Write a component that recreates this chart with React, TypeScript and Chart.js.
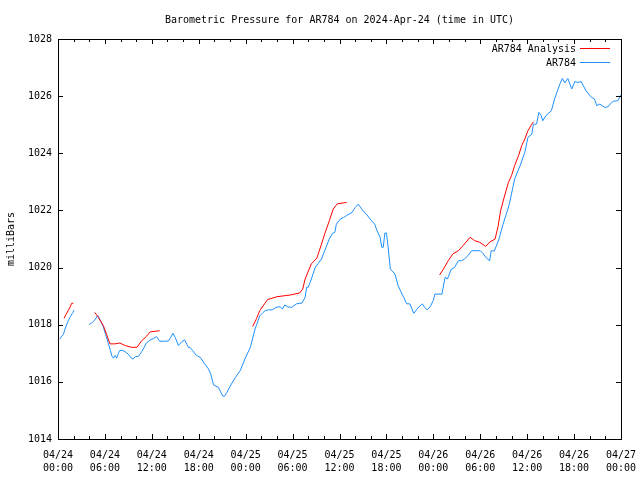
import React, { useEffect, useRef } from 'react';
import { Chart, registerables } from 'chart.js';

Chart.register(...registerables);

const TITLE = 'Barometric Pressure for AR784 on 2024-Apr-24 (time in UTC)';
const Y_LABEL = 'milliBars';
const SERIES_NAMES = ['AR784 Analysis', 'AR784'];
const SERIES_COLORS = ['#ff0000', '#1e90ff'];

const X_MIN = 0;
const X_MAX = 72;
const X_STEP = 2;
const X_LABEL_EVERY = 6;
const Y_MIN = 1014;
const Y_MAX = 1028;
const Y_STEP = 2;

const X_TICK_DATES = ['04/24', '04/24', '04/24', '04/24', '04/25', '04/25', '04/25', '04/25', '04/26', '04/26', '04/26', '04/26', '04/27'];
const X_TICK_TIMES = ['00:00', '06:00', '12:00', '18:00', '00:00', '06:00', '12:00', '18:00', '00:00', '06:00', '12:00', '18:00', '00:00'];

// Observed station pressure (hours since 04/24 00:00 UTC); null = gap
const obsHours = [
  0.2, 0.7, 0.9, 1.3, 1.6, 1.9, 2.05,
  3.0,
  4.0, 4.3, 4.55, 4.8, 5.0, 5.16, 5.4, 5.6, 5.8, 6.1, 6.4, 6.7, 6.9, 7.07, 7.3, 7.5, 7.7, 7.9,
  8.3, 8.6, 9.0, 9.3, 9.6, 9.9, 10.3, 10.7, 11.0, 11.3, 11.7, 12.2, 12.6, 13.0, 13.5, 14.1,
  14.4, 14.7, 15.0, 15.4, 15.8, 16.2, 16.5, 16.7, 16.9, 17.2, 17.7, 18.2, 18.7, 19.2, 19.5,
  19.9, 20.5, 20.8, 21.1, 21.3, 21.6, 22.0, 22.6, 23.3, 23.9, 24.6, 25.2, 25.8, 26.2, 26.5,
  26.9, 27.4, 27.9, 28.4, 28.7, 29.0, 29.4, 29.9, 30.5, 31.2, 31.6, 31.8, 32.0, 32.4, 32.9,
  33.3, 33.7, 34.1, 34.7, 35.1, 35.4, 35.6, 36.1, 36.5, 36.9, 37.6, 38.0, 38.4, 39.0, 39.5,
  39.9, 40.5, 40.8, 41.2, 41.4, 41.6, 41.8, 42.0, 42.2, 42.5, 43.1, 43.5, 44.2, 44.6, 45.0,
  45.5, 46.1, 46.6, 46.9, 47.2, 47.6, 48.0, 48.2, 49.1, 49.5, 49.8, 50.3, 50.7, 51.2, 51.6,
  52.0, 52.5, 52.9, 53.3, 54.0, 54.4, 54.8, 55.2, 55.4, 55.8, 56.4, 56.9, 57.3, 57.7, 58.4,
  59.1, 59.7, 60.1, 60.6, 60.8, 61.2, 61.5, 61.8, 62.0, 62.4, 63.1, 63.5, 63.8, 64.2, 64.5,
  64.8, 65.2, 65.7, 66.1, 66.5, 66.9, 67.5, 68.2, 68.6, 68.9, 69.3, 69.9, 70.3, 70.6, 71.0,
  71.6, 72.0,
];
const obsPressure = [
  1017.5, 1017.67, 1017.85, 1018.14, 1018.29, 1018.43, 1018.51,
  null,
  1018.02, 1018.05, 1018.12, 1018.2, 1018.3, 1018.3, 1018.15, 1018.05, 1017.92, 1017.65, 1017.38, 1017.1, 1016.9, 1016.83, 1016.92, 1016.83, 1016.98, 1017.1,
  1017.1, 1017.05, 1016.97, 1016.85, 1016.8, 1016.88, 1016.9, 1017.05, 1017.2, 1017.36, 1017.45, 1017.52, 1017.58, 1017.42, 1017.42, 1017.43,
  1017.55, 1017.7, 1017.55, 1017.27, 1017.4, 1017.47, 1017.3, 1017.2, 1017.2, 1017.1, 1016.92, 1016.86, 1016.65, 1016.47, 1016.3,
  1015.89, 1015.81, 1015.65, 1015.5, 1015.5, 1015.63, 1015.84, 1016.12, 1016.39, 1016.8, 1017.21, 1017.85, 1018.31, 1018.42, 1018.49,
  1018.52, 1018.52, 1018.61, 1018.63, 1018.55, 1018.69, 1018.62, 1018.61, 1018.73, 1018.76, 1018.96, 1019.31, 1019.31, 1019.6, 1020.01,
  1020.15, 1020.3, 1020.59, 1021.0, 1021.2, 1021.23, 1021.52, 1021.7, 1021.75, 1021.82, 1021.93, 1022.1, 1022.22, 1021.99, 1021.85,
  1021.7, 1021.52, 1021.29, 1021.06, 1020.71, 1020.71, 1021.21, 1021.21, 1020.77, 1019.95, 1019.77, 1019.36, 1018.96, 1018.73, 1018.73,
  1018.4, 1018.61, 1018.73, 1018.6, 1018.52, 1018.63, 1018.85, 1019.07, 1019.07, 1019.66, 1019.6, 1019.95, 1020.0, 1020.24, 1020.24,
  1020.3, 1020.44, 1020.59, 1020.59, 1020.59, 1020.48, 1020.33, 1020.24, 1020.59, 1020.58, 1021.0, 1021.5, 1021.85, 1022.2, 1023.1,
  1023.57, 1024.03, 1024.56, 1024.67, 1025.02, 1025.02, 1025.43, 1025.32, 1025.14, 1025.32, 1025.49, 1025.9, 1026.13, 1026.43, 1026.62,
  1026.46, 1026.62, 1026.25, 1026.51, 1026.48, 1026.51, 1026.2, 1025.96, 1025.9, 1025.67, 1025.72, 1025.61, 1025.62, 1025.72, 1025.82,
  1025.84, 1026.04,
];

// Model analysis pressure; null = gap between segments
const anaHours = [
  0.77, 1.0, 1.3, 1.55, 1.75, 1.96,
  3.3,
  4.7, 5.15, 5.8, 6.2, 6.65, 7.3, 7.9, 8.6, 9.4, 10.1, 10.7, 11.3, 11.8, 13.0,
  19.0,
  24.9, 25.4, 25.8, 26.8, 28.0, 29.7, 30.9, 31.3, 31.6, 32.4, 33.1, 33.7, 34.1, 34.7, 35.2, 35.7, 36.9,
  43.0,
  48.8, 49.3, 49.9, 50.5, 51.2, 51.8, 52.7, 53.3, 53.9, 54.7, 55.2, 55.9, 56.3, 56.6, 57.0, 57.6, 58.0,
  58.4, 58.9, 59.3, 59.7, 60.1, 60.6, 60.8,
];
const anaPressure = [
  1018.22, 1018.35, 1018.49, 1018.62, 1018.75, 1018.75,
  null,
  1018.43, 1018.26, 1017.97, 1017.67, 1017.33, 1017.33, 1017.36, 1017.27, 1017.21, 1017.21, 1017.44, 1017.59, 1017.75, 1017.79,
  null,
  1017.94, 1018.22, 1018.49, 1018.88, 1018.98, 1019.04, 1019.11, 1019.25, 1019.6, 1020.13, 1020.33, 1020.82, 1021.17, 1021.64, 1022.05, 1022.23, 1022.28,
  null,
  1019.74, 1019.95, 1020.24, 1020.48, 1020.59, 1020.77, 1021.06, 1020.94, 1020.89, 1020.74, 1020.89, 1021.0, 1021.47, 1021.99, 1022.4, 1022.98, 1023.22,
  1023.57, 1023.92, 1024.27, 1024.5, 1024.79, 1025.02, 1025.1,
];

const FONT_FAMILY = '"DejaVu Sans Mono", "Liberation Mono", monospace';
const FONT_SIZE = 10;

const toPoints = (xs: number[], ys: (number | null)[]) => xs.map((x, i) => ({ x, y: ys[i] }));

const framePlugin = {
  id: 'gnuFrame',
  afterDraw(chart: any) {
    const { ctx, chartArea } = chart;
    const { left, right, top, bottom } = chartArea;
    const xs = chart.scales.x;
    const ys = chart.scales.y;
    ctx.save();
    ctx.strokeStyle = '#000';
    ctx.lineWidth = 1;
    ctx.strokeRect(left + 0.5, top + 0.5, right - left, bottom - top);
    ctx.beginPath();
    xs.ticks.forEach((t: any) => {
      const px = Math.round(xs.getPixelForValue(t.value)) + 0.5;
      const len = t.value % X_LABEL_EVERY === 0 ? 5 : 3;
      ctx.moveTo(px, bottom);
      ctx.lineTo(px, bottom - len);
      ctx.moveTo(px, top);
      ctx.lineTo(px, top + len);
    });
    ys.ticks.forEach((t: any) => {
      const py = Math.round(ys.getPixelForValue(t.value)) + 0.5;
      ctx.moveTo(left, py);
      ctx.lineTo(left + 5, py);
      ctx.moveTo(right, py);
      ctx.lineTo(right - 5, py);
    });
    ctx.stroke();

    ctx.fillStyle = '#000';
    ctx.font = `${FONT_SIZE}px ${FONT_FAMILY}`;
    ctx.textAlign = 'center';
    ctx.textBaseline = 'middle';
    ctx.fillText(TITLE, (left + right) / 2, 20);

    ctx.textAlign = 'right';
    chart.data.datasets.forEach((ds: any, i: number) => {
      const y = 49 + i * 14;
      ctx.fillStyle = '#000';
      ctx.fillText(ds.label, right - 45, y);
      ctx.strokeStyle = SERIES_COLORS[i];
      ctx.lineWidth = 1;
      ctx.beginPath();
      ctx.moveTo(right - 41, y - 0.5);
      ctx.lineTo(right - 11, y - 0.5);
      ctx.stroke();
    });
    ctx.restore();
  },
};

export default function App() {
  const canvasRef = useRef<HTMLCanvasElement | null>(null);

  useEffect(() => {
    if (!canvasRef.current) return;
    const chart = new Chart(canvasRef.current, {
      type: 'line',
      data: {
        datasets: [
          {
            label: SERIES_NAMES[0],
            data: toPoints(anaHours, anaPressure),
            borderColor: SERIES_COLORS[0],
            backgroundColor: SERIES_COLORS[0],
            borderWidth: 1,
            pointRadius: 0,
            tension: 0,
            spanGaps: false,
          },
          {
            label: SERIES_NAMES[1],
            data: toPoints(obsHours, obsPressure),
            borderColor: SERIES_COLORS[1],
            backgroundColor: SERIES_COLORS[1],
            borderWidth: 1,
            pointRadius: 0,
            tension: 0,
            spanGaps: false,
          },
        ],
      },
      options: {
        responsive: false,
        animation: false,
        devicePixelRatio: 1,
        layout: { padding: { top: 39, right: 19, left: 0, bottom: 0 } },
        plugins: {
          legend: { display: false },
          title: { display: false },
          tooltip: { enabled: false },
        },
        scales: {
          x: {
            type: 'linear',
            min: X_MIN,
            max: X_MAX,
            grid: { display: false, drawTicks: false },
            border: { display: false },
            afterFit: (s: any) => { s.height = 41; s.paddingLeft = 0; s.paddingRight = 0; },
            ticks: {
              stepSize: X_STEP,
              autoSkip: false,
              maxRotation: 0,
              minRotation: 0,
              padding: 10,
              color: '#000',
              font: { family: FONT_FAMILY, size: FONT_SIZE, lineHeight: 1.3 },
              callback: (v: any) => {
                const n = Number(v);
                if (n % X_LABEL_EVERY !== 0) return '';
                const i = n / X_LABEL_EVERY;
                return [X_TICK_DATES[i], X_TICK_TIMES[i]];
              },
            },
          },
          y: {
            type: 'linear',
            min: Y_MIN,
            max: Y_MAX,
            grid: { display: false, drawTicks: false },
            border: { display: false },
            afterFit: (s: any) => { s.width = 58; s.paddingTop = 0; s.paddingBottom = 0; },
            title: {
              display: true,
              text: Y_LABEL,
              color: '#000',
              font: { family: FONT_FAMILY, size: FONT_SIZE },
              padding: { top: 5, bottom: 0 },
            },
            ticks: {
              stepSize: Y_STEP,
              padding: 6,
              color: '#000',
              font: { family: FONT_FAMILY, size: FONT_SIZE },
              callback: (v: any) => String(v),
            },
          },
        },
      },
      plugins: [framePlugin],
    });
    return () => chart.destroy();
  }, []);

  return (
    <div style={{ position: 'absolute', left: 0, top: 0, width: 640, height: 480, background: '#fff' }}>
      <canvas ref={canvasRef} width={640} height={480} />
    </div>
  );
}
